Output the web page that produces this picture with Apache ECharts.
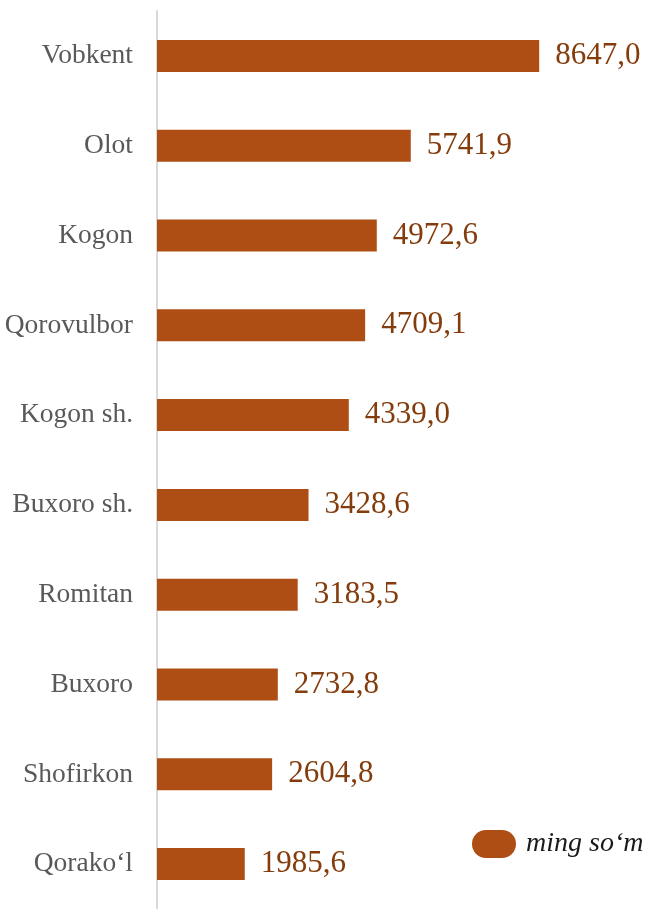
<!DOCTYPE html>
<html>
<head>
<meta charset="utf-8">
<script src="https://cdn.jsdelivr.net/npm/echarts@6/dist/echarts.min.js"></script>
<style>
  html, body { margin: 0; padding: 0; background: #fff; }
  #chart { width: 647px; height: 909px; }
</style>
</head>
<body>
<div id="chart"></div>
<script>
var districts = ['Vobkent', 'Olot', 'Kogon', 'Qorovulbor', 'Kogon sh.', 'Buxoro sh.', 'Romitan', 'Buxoro', 'Shofirkon', 'Qorako‘l']
var values = [8647.0, 5741.9, 4972.6, 4709.1, 4339.0, 3428.6, 3183.5, 2732.8, 2604.8, 1985.6]
var seriesName = 'ming so‘m'

var chart = echarts.init(document.getElementById('chart'))
var option = {
  animation: false,
  textStyle: { fontFamily: '"Liberation Serif", "Times New Roman", serif' },
  legend: {
    data: [seriesName],
    left: 472,
    top: 830,
    padding: 0,
    itemWidth: 44,
    itemHeight: 28,
    icon: 'path://M14,0 H30 A14,14 0 0 1 30,28 H14 A14,14 0 0 1 14,0 Z',
    textStyle: {
      fontSize: 28,
      fontStyle: 'italic',
      color: '#1a1a1a',
      padding: [0, 0, 0, 5]
    }
  },
  grid: {
    left: 157,
    top: 11,
    width: 442,
    height: 900
  },
  xAxis: {
    type: 'value',
    min: 0,
    max: 10000,
    show: false
  },
  yAxis: {
    type: 'category',
    inverse: true,
    data: districts,
    axisTick: { show: false },
    axisLine: {
      lineStyle: { color: '#d9d9d9', width: 2 }
    },
    axisLabel: {
      margin: 24,
      fontSize: 27.5,
      color: '#595959'
    }
  },
  series: [
    {
      name: seriesName,
      type: 'bar',
      data: values,
      barWidth: 32,
      itemStyle: { color: '#ae4e14' },
      label: {
        show: true,
        position: 'right',
        distance: 16,
        fontSize: 31,
        color: '#843c0c',
        formatter: function (p) {
          return p.value.toFixed(1).replace('.', ',')
        }
      }
    }
  ]
}
chart.setOption(option)
</script>
</body>
</html>
